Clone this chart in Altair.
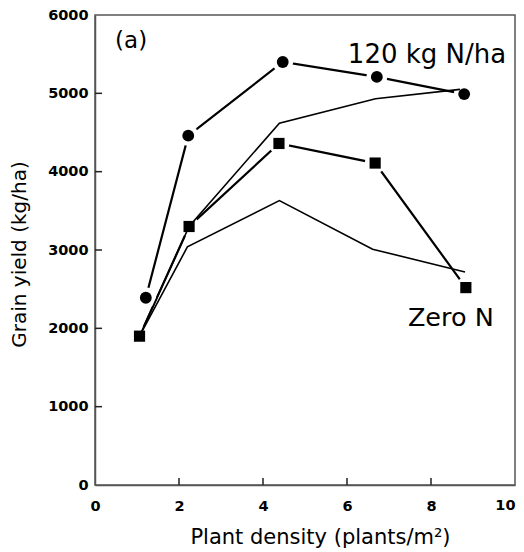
import altair as alt
import pandas as pd

# 120 kg N/ha (circles, thick line)
density_n120 = [1.21, 2.22, 4.47, 6.71, 8.79]
yield_n120 = [2390, 4460, 5400, 5210, 4990]
# Zero N (squares, thick line)
density_zero = [1.06, 2.24, 4.38, 6.67, 8.83]
yield_zero = [1900, 3300, 4360, 4110, 2520]
# thin (simulated) lines
density_upper = [1.06, 2.24, 4.39, 6.68, 8.69]
yield_upper = [1900, 3300, 4620, 4930, 5050]
density_lower = [1.06, 2.20, 4.39, 6.61, 8.81]
yield_lower = [1900, 3040, 3630, 3010, 2720]

x_label_values = [0, 2, 4, 6, 8]
x_last_label = [10]
y_label_values = [0, 1000, 2000, 3000, 4000, 5000, 6000]
x_ticks = [2, 4, 6, 8]
y_ticks = [1000, 2000, 3000, 4000, 5000]

labels_text = ["(a)", "120 kg N/ha", "Zero N"]
labels_x = [0.86, 6.02, 7.45]
labels_y = [5668, 5384, 2030]

FONT = "DejaVu Sans"

df_n120 = pd.DataFrame({"x": density_n120, "y": yield_n120, "s": "n120"})
df_zero = pd.DataFrame({"x": density_zero, "y": yield_zero, "s": "zero"})
df_upper = pd.DataFrame({"x": density_upper, "y": yield_upper})
df_lower = pd.DataFrame({"x": density_lower, "y": yield_lower})
df_pts = pd.concat([df_n120, df_zero])

xs = alt.Scale(domain=[0, 10], nice=False)
ys = alt.Scale(domain=[0, 6000], nice=False)

X = alt.X("x:Q", scale=xs, axis=alt.Axis(
    title="Plant density (plants/m²)", values=x_label_values, format="d", ticks=False, grid=False,
    labelFont=FONT, labelFontWeight="bold", labelFontSize=14.5, labelColor="black",
    labelPadding=14, domainColor="#555", domainWidth=1.5, labelFlush=False, labelOverlap=False,
    titleFont=FONT, titleFontSize=21, titleFontWeight="normal", titleColor="black",
    titleX=225, titleY=52, titleBaseline="middle", titleAlign="center"))
Y = alt.Y("y:Q", scale=ys, axis=alt.Axis(
    title="Grain yield (kg/ha)", values=y_label_values, format="d",
    ticks=False, grid=False, labelFlush=False, labelOverlap=False,
    labelFont=FONT, labelFontWeight="bold", labelFontSize=14.5, labelColor="black",
    labelPadding=7, domainColor="#555", domainWidth=1.5,
    titleFont=FONT, titleFontSize=20, titleFontWeight="normal", titleColor="black",
    titleX=-76, titleY=239, titleAngle=270, titleBaseline="middle", titleAlign="center"))

thick_n120 = alt.Chart(df_n120).mark_line(color="black", strokeWidth=2.2).encode(x=X, y=Y)
thick_zero = alt.Chart(df_zero).mark_line(color="black", strokeWidth=2.2).encode(x=X, y=Y)
halos = alt.Chart(df_pts).mark_point(shape="circle", filled=True, color="white", opacity=1, size=440).encode(x=X, y=Y)
thin_upper = alt.Chart(df_upper).mark_line(color="black", strokeWidth=1.6).encode(x=X, y=Y)
thin_lower = alt.Chart(df_lower).mark_line(color="black", strokeWidth=1.6).encode(x=X, y=Y)
circles = alt.Chart(df_n120).mark_point(shape="circle", filled=True, color="black", opacity=1, size=140).encode(x=X, y=Y)
squares = alt.Chart(df_zero).mark_point(shape="square", filled=True, color="black", opacity=1, size=125).encode(x=X, y=Y)

df_lab = pd.DataFrame({"t": labels_text, "x": labels_x, "y": labels_y})
lab_a = alt.Chart(df_lab.iloc[[0]]).mark_text(font=FONT, fontSize=23, align="center", baseline="middle", color="black").encode(x=X, y=Y, text="t:N")
lab_n = alt.Chart(df_lab.iloc[[1]]).mark_text(font=FONT, fontSize=26, align="left", baseline="alphabetic", color="black").encode(x=X, y=Y, text="t:N")
lab_z = alt.Chart(df_lab.iloc[[2]]).mark_text(font=FONT, fontSize=25.5, align="left", baseline="alphabetic", color="black").encode(x=X, y=Y, text="t:N")

# last x-axis label, kept inside the page edge
last_lab = alt.Chart(pd.DataFrame({"x": x_last_label})).mark_text(
    font=FONT, fontWeight="bold", fontSize=14.5, align="right", baseline="top", color="black", dx=0.5
).encode(x=alt.X("x:Q", scale=xs), y=alt.value(484), text=alt.Text("x:Q", format="d"))

xt = alt.Chart(pd.DataFrame({"x": x_ticks})).mark_rule(color="#222", strokeWidth=1.5).encode(
    x=alt.X("x:Q", scale=xs), y=alt.value(470), y2=alt.value(463))
yt = alt.Chart(pd.DataFrame({"y": y_ticks})).mark_rule(color="#222", strokeWidth=1.5).encode(
    y=alt.Y("y:Q", scale=ys), x=alt.value(0), x2=alt.value(7))

chart = alt.layer(thick_n120, thick_zero, halos, thin_upper, thin_lower, circles, squares,
                  lab_a, lab_n, lab_z, last_lab, xt, yt).properties(
    width=420, height=470, autosize="none",
    padding={"left": 87, "top": 7, "right": 1, "bottom": 67},
    background="white",
).configure_view(stroke="#555", strokeWidth=1.5)

chart.save("out.html", embed_options={"renderer": "svg", "actions": False})
